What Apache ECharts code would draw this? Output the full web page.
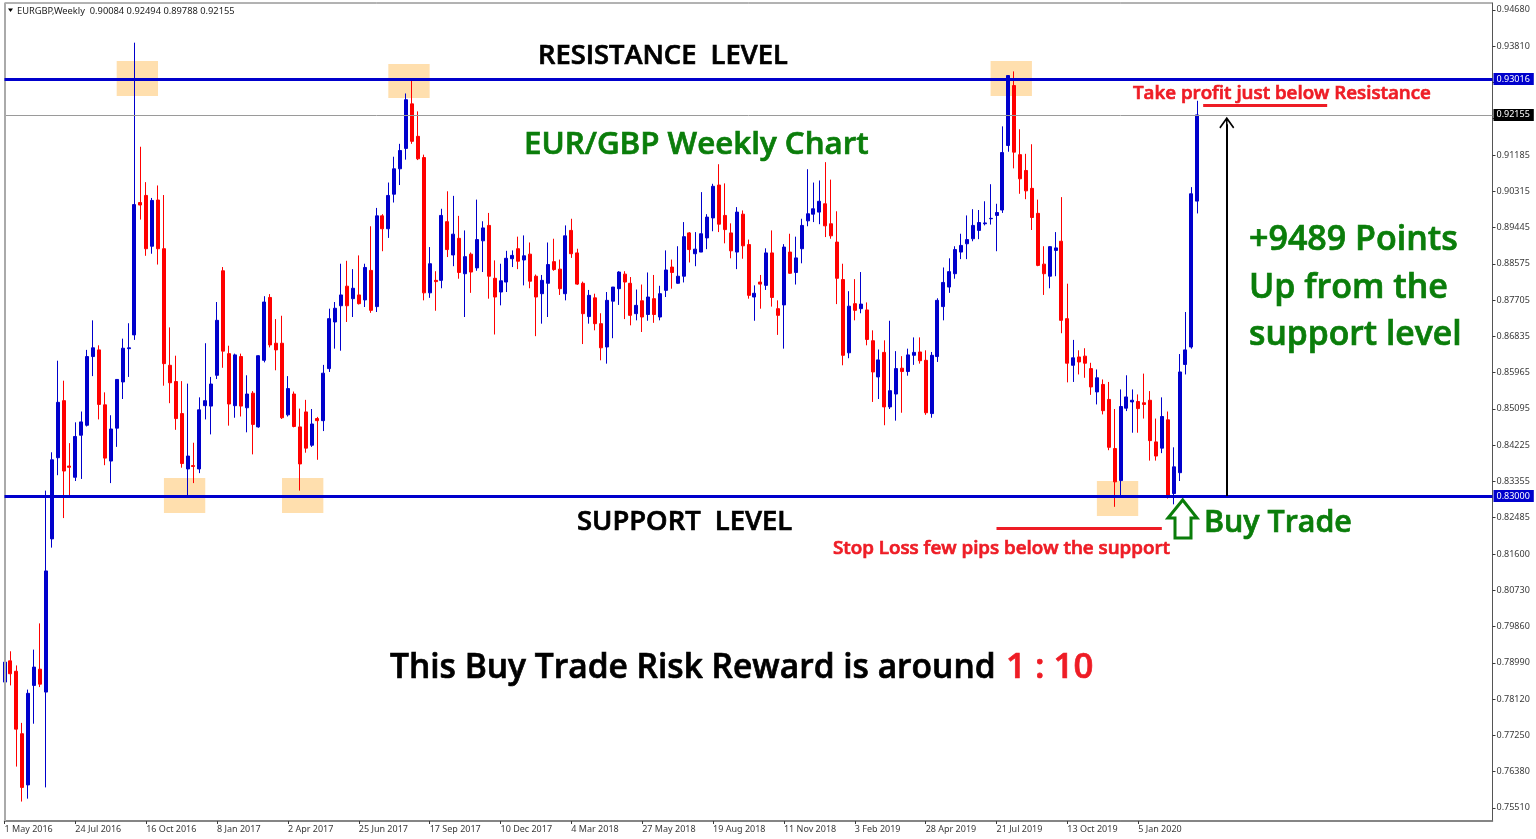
<!DOCTYPE html>
<html><head><meta charset="utf-8"><style>html,body{margin:0;padding:0;background:#fff}#c{width:1536px;height:839px}</style>
<script src="https://cdn.jsdelivr.net/npm/echarts@6/dist/echarts.min.js"></script></head>
<body><div id="c"></div>
<script>
const tickLabels=['1 May 2016','24 Jul 2016','16 Oct 2016','8 Jan 2017','2 Apr 2017','25 Jun 2017','17 Sep 2017','10 Dec 2017','4 Mar 2018','27 May 2018','19 Aug 2018','11 Nov 2018','3 Feb 2019','28 Apr 2019','21 Jul 2019','13 Oct 2019','5 Jan 2020'];
const priceTicks=[0.94680,0.93810,0.92940,0.92070,0.91185,0.90315,0.89445,0.88575,0.87705,0.86835,0.85965,0.85095,0.84225,0.83355,0.82485,0.81600,0.80730,0.79860,0.78990,0.78120,0.77250,0.76380,0.75510];
const opens=[.7853,.7904,.7879,.7729,.7606,.7845,.7884,.7829,.8197,.8392,.8529,.8372,.8345,.8446,.8470,.8635,.8651,.8519,.8384,.8463,
.8574,.8654,.8687,.9005,.9022,.8900,.9011,.8894,.8614,.8575,.8498,.8365,.8373,.8365,.8517,.8516,.8590,.8841,.8642,.8517,
.8635,.8512,.8547,.8466,.8626,.8777,.8667,.8667,.8495,.8545,.8466,.8502,.8422,.8486,.8481,.8606,.8718,.8757,.8804,.8774,
.8783,.8771,.8842,.8755,.8973,.8942,.9025,.9086,.9135,.9242,.9164,.9113,.8788,.8818,.8818,.8959,.8879,.8919,.8834,.8881,
.8848,.8913,.8950,.8823,.8790,.8814,.8870,.8894,.8867,.8881,.8828,.8786,.8811,.8863,.8845,.8786,.8938,.8884,.8811,.8731,
.8776,.8714,.8658,.8768,.8798,.8833,.8811,.8738,.8769,.8736,.8774,.8730,.8794,.8850,.8811,.8828,.8932,.8882,.8886,.8920,
.8968,.9047,.8974,.8932,.8886,.8977,.8904,.8778,.8814,.8806,.8884,.8750,.8759,.8886,.8837,.8894,.8961,.8977,.8982,.9002,
.8954,.8910,.8820,.8644,.8762,.8750,.8747,.8673,.8586,.8645,.8514,.8545,.8607,.8599,.8638,.8646,.8626,.8498,.8635,.8755,
.8802,.8834,.8886,.8906,.8918,.8938,.8954,.8966,.8974,.8987,.9142,.9286,.9120,.9082,.9039,.8979,.8857,.8828,.8890,.8912,
.8726,.8614,.8634,.8636,.8606,.8550,.8568,.8532,.8414,.8337,.8511,.8526,.8527,.8524,.8530,.8430,.8415,.8483,.8306,.8356,
.8616,.8658,.90084];
const closes=[.7901,.7873,.7740,.7600,.7826,.7889,.7848,.8120,.8387,.8525,.8360,.8369,.8443,.8478,.8635,.8656,.8520,.8391,.8461,.8580,
.8655,.8656,.9000,.8999,.8894,.9010,.8894,.8618,.8572,.8486,.8378,.8396,.8371,.8507,.8529,.8569,.8722,.8648,.8521,.8639,
.8516,.8545,.8472,.8637,.8766,.8663,.8651,.8488,.8558,.8467,.8377,.8415,.8473,.8481,.8595,.8726,.8751,.8783,.8757,.8799,
.8762,.8849,.8746,.8973,.8942,.9022,.9086,.9130,.9252,.9152,.9110,.8788,.8858,.8815,.8974,.8892,.8929,.8837,.8875,.8838,
.8916,.8944,.8828,.8778,.8817,.8871,.8878,.8864,.8877,.8816,.8778,.8818,.8856,.8844,.8798,.8925,.8882,.8809,.8738,.8782,
.8714,.8656,.8770,.8802,.8838,.8814,.8734,.8758,.8730,.8778,.8736,.8786,.8843,.8837,.8828,.8923,.8892,.8893,.8930,.8970,
.9044,.8953,.8940,.8889,.8982,.8901,.8782,.8787,.8809,.8884,.8777,.8734,.8898,.8835,.8872,.8950,.8978,.8990,.9008,.8949,
.8925,.8823,.8638,.8756,.8746,.8761,.8676,.8598,.8627,.8514,.8553,.8606,.8599,.8639,.8645,.8625,.8500,.8638,.8770,.8813,
.8839,.8892,.8902,.8916,.8950,.8957,.8956,.8967,.8981,.9125,.9310,.9126,.9062,.9033,.8969,.8854,.8834,.8899,.8896,.8722,
.8619,.8632,.8622,.8619,.8562,.8584,.8505,.8417,.8334,.8515,.8538,.8530,.8510,.8520,.8433,.8396,.8491,.8302,.8370,.8598,
.8651,.9026,.92155];
const lows=[.7823,.7845,.7650,.7566,.7573,.7753,.7841,.7600,.8176,.8350,.8247,.8301,.8336,.8341,.8467,.8588,.8484,.8374,.8331,.8418,
.8533,.8586,.8675,.8964,.8877,.8882,.8856,.8565,.8523,.8459,.8368,.8301,.8331,.8355,.8484,.8448,.8581,.8608,.8469,.8488,
.8491,.8453,.8400,.8464,.8621,.8657,.8602,.8485,.8491,.8465,.8313,.8404,.8418,.8387,.8456,.8598,.8654,.8649,.8718,.8730,
.8760,.8754,.8740,.8742,.8888,.8920,.9005,.9047,.9108,.9146,.9107,.8770,.8776,.8745,.8799,.8874,.8852,.8822,.8730,.8788,
.8841,.8838,.8774,.8688,.8758,.8790,.8850,.8845,.8806,.8799,.8684,.8714,.8730,.8841,.8783,.8770,.8872,.8807,.8665,.8714,
.8698,.8626,.8618,.8679,.8759,.8725,.8710,.8722,.8694,.8721,.8716,.8722,.8778,.8798,.8810,.8813,.8861,.8852,.8886,.8893,
.8936,.8934,.8907,.8871,.8845,.8870,.8774,.8721,.8750,.8795,.8755,.8687,.8654,.8834,.8808,.8859,.8948,.8958,.8953,.8922,
.8918,.8761,.8614,.8631,.8722,.8739,.8662,.8526,.8533,.8470,.8509,.8481,.8500,.8589,.8615,.8618,.8495,.8488,.8622,.8722,
.8788,.8822,.8869,.8869,.8912,.8917,.8950,.8952,.8888,.8980,.9127,.9087,.9026,.9013,.8939,.8852,.8783,.8799,.8828,.8691,
.8573,.8574,.8592,.8584,.8543,.8520,.8496,.8410,.8274,.8302,.8504,.8452,.8452,.8486,.8385,.8385,.8403,.8294,.8280,.8336,
.8592,.8654,.89788];
const highs=[.7946,.7927,.7893,.7755,.7835,.7931,.7994,.8313,.8405,.8625,.8577,.8427,.8477,.8503,.8651,.8722,.8662,.8549,.8494,.8580,
.8678,.8715,.9389,.9139,.9054,.9016,.9046,.9023,.8705,.8637,.8576,.8570,.8428,.8537,.8667,.8586,.8766,.8850,.8661,.8642,
.8642,.8590,.8552,.8638,.8780,.8785,.8725,.8733,.8588,.8551,.8510,.8531,.8509,.8490,.8615,.8750,.8766,.8858,.8865,.8845,
.8878,.8858,.8948,.8992,.8977,.9053,.9115,.9146,.9267,.9297,.9224,.9120,.8898,.8840,.8990,.9032,.9021,.8973,.8938,.8885,
.9012,.8960,.8980,.8866,.8858,.8889,.8890,.8923,.8926,.8909,.8832,.8831,.8909,.8918,.8868,.8950,.8966,.8894,.8815,.8795,
.8786,.8739,.8790,.8802,.8840,.8840,.8826,.8796,.8808,.8837,.8831,.8805,.8890,.8868,.8900,.8958,.8934,.8934,.9030,.8977,
.9050,.9097,.9051,.8955,.8994,.8986,.8916,.8806,.8831,.8895,.8938,.8770,.8905,.8930,.8923,.8966,.9085,.9053,.9058,.9102,
.9060,.8984,.8858,.8792,.8821,.8838,.8765,.8698,.8652,.8674,.8721,.8648,.8636,.8654,.8681,.8681,.8650,.8646,.8775,.8849,
.8871,.8900,.8930,.8974,.8989,.8987,.9008,.9049,.9002,.9188,.9311,.9320,.9181,.9122,.9145,.9012,.8900,.8900,.8934,.9018,
.8810,.8675,.8650,.8655,.8620,.8604,.8580,.8574,.8509,.8556,.8590,.8556,.8544,.8594,.8552,.8486,.8537,.8503,.8417,.8641,
.8742,.9042,.92494];
const resistance=0.93016, support=0.83000, lastClose=0.92155;
const highlightSpans=[[19,26,.93449,.92608],[65,72,.93377,.92560],[167,174,.93449,.92608],[27,34,.83432,.82592],[47,54,.83432,.82592],[185,192,.8336,.8252]];
const tpUnderline=[203,224,.92392], slUnderline=[168,196,.82231], gainArrow=[207,.9193];
const headerText='EURGBP,Weekly  0.90084 0.92494 0.89788 0.92155';

const totalSlots=253;
const categories=Array.from({length:totalSlots},(_,i)=>(i%12===0&&tickLabels[i/12])?tickLabels[i/12]:'w'+i);
const candles=opens.map((o,i)=>[o,closes[i],lows[i],highs[i]]);
const isLabelled=(i)=>i%12===0&&i/12<tickLabels.length;
const BLUE='#0000cc',RED='#ff0000',TXT='#ee1c25',GREEN='#0a7d0a',AXIS='#3a3a3a',F='"Open Sans"',SM='"Noto Sans"';
const tag=(bg)=>({show:true,position:'end',distance:1,color:'#fff',backgroundColor:bg,padding:[2,4,1,3],fontFamily:SM,fontSize:9,formatter:p=>p.value.toFixed(5)});
const t=(text,x,y,size,fill)=>({type:'text',z:50,silent:true,style:{text,x,y:y+2,fill,stroke:fill,lineWidth:0.7,textVerticalAlign:'middle',textAlign:'left',font:`600 ${size}px ${F}`}});

const chart=echarts.init(document.getElementById('c'),null,{renderer:'canvas'});
chart.setOption({
 animation:false,backgroundColor:'#fff',
 grid:{left:4.5,right:43.5,top:3,bottom:18,show:true,borderColor:'#666',borderWidth:1,backgroundColor:'#fff'},
 xAxis:{type:'category',data:categories,boundaryGap:false,
  axisLine:{lineStyle:{color:'#777',width:1.5}},
  axisTick:{interval:isLabelled,length:3,lineStyle:{color:AXIS}},
  splitLine:{show:false},
  axisLabel:{interval:isLabelled,align:'left',margin:4,color:AXIS,fontFamily:SM,fontSize:9,hideOverlap:false,formatter:v=>v}},
 yAxis:{type:'value',position:'right',min:0.75193,max:0.94843,scale:true,splitLine:{show:false},
  axisLine:{show:true,lineStyle:{color:'#555',width:1}},
  axisTick:{show:true,length:3,customValues:priceTicks,lineStyle:{color:AXIS}},
  axisLabel:{customValues:priceTicks,margin:4,color:AXIS,fontFamily:SM,fontSize:9,formatter:v=>v.toFixed(5)}},
 series:[
  {type:'line',data:[],z:1,silent:true,markArea:{silent:true,itemStyle:{color:'#ffdfae'},
    data:highlightSpans.map(s=>[{xAxis:s[0],yAxis:s[2]},{xAxis:s[1],yAxis:s[3]}])}},
  {type:'candlestick',z:3,data:candles,barWidth:3.5,clip:true,silent:true,
    itemStyle:{color:BLUE,color0:RED,borderColor:BLUE,borderColor0:RED,borderWidth:1}},
  {type:'line',data:[],z:2,silent:true,markLine:{silent:true,symbol:'none',animation:false,precision:5,
    lineStyle:{color:'#9a9a9a',width:1,type:'solid'},label:{show:false},
    data:[{yAxis:lastClose,label:tag('#000')},{xAxis:0,lineStyle:{color:'#aaa',width:2,type:'solid'},label:{show:false}}]}},
  {type:'line',data:[],z:5,silent:true,markLine:{silent:true,symbol:'none',animation:false,precision:5,
    lineStyle:{color:BLUE,width:3,type:'solid'},
    data:[{yAxis:resistance,label:tag(BLUE)},{yAxis:support,label:tag(BLUE)},
     [{coord:[tpUnderline[0],tpUnderline[2]],lineStyle:{color:TXT,width:3,type:'solid'},label:{show:false}},{coord:[tpUnderline[1],tpUnderline[2]]}],
     [{coord:[slUnderline[0],slUnderline[2]],lineStyle:{color:TXT,width:3,type:'solid'},label:{show:false}},{coord:[slUnderline[1],slUnderline[2]]}]
    ]}},
  {type:'line',data:[],z:4,silent:true,markLine:{silent:true,animation:false,symbol:['none','path://M50 0 L100 70 L92 78 L55 26 L55 100 L45 100 L45 26 L8 78 L0 70 Z'],symbolSize:[15,15],
    lineStyle:{color:'#000',width:2,type:'solid'},label:{show:false},
    data:[[{coord:[gainArrow[0],support]},{coord:[gainArrow[0],gainArrow[1]]}]]}}
 ],
 graphic:[
  {type:'polygon',z:50,silent:true,shape:{points:[[8,8.5],[13,8.5],[10.5,12]]},style:{fill:'#000'}},
  {type:'text',z:50,silent:true,style:{text:headerText,x:17,y:11,fill:'#222',textVerticalAlign:'middle',font:`9.3px ${SM}`}},
  t('RESISTANCE  LEVEL',538,54,27.3,'#000'),
  t('SUPPORT  LEVEL',577,520,27.4,'#000'),
  t('EUR/GBP Weekly Chart',524,143,31.3,GREEN),
  t('Take profit just below Resistance',1133,92,18.75,TXT),
  t('Stop Loss few pips below the support',833,547,18.8,TXT),
  t('+9489 Points',1249,238,34,GREEN),
  t('Up from the',1249,286,34,GREEN),
  t('support level',1249,333,33.7,GREEN),
  t('Buy Trade',1204,521,30.4,GREEN),
  t('This Buy Trade Risk Reward is around',390,666,33.55,'#000'),
  t('1 : 10',1006,666,34.8,TXT),
  {type:'polygon',z:50,silent:true,shape:{points:[[1182.7,500],[1197,518],[1191,518],[1191,538],[1175,538],[1175,518],[1168,518]]},style:{fill:'#fff',stroke:GREEN,lineWidth:3}}
 ]
});
</script></body></html>
